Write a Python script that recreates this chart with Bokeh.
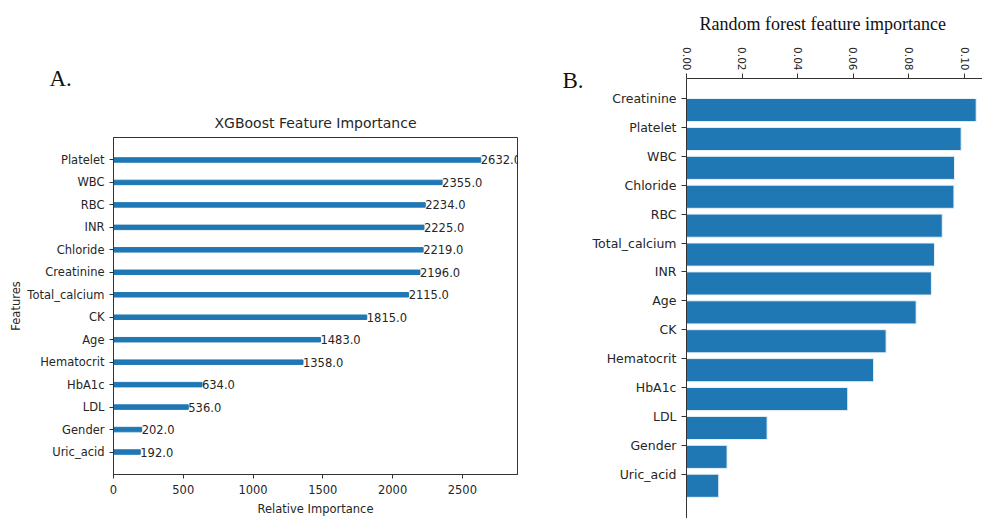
import math
from bokeh.plotting import figure
from bokeh.layouts import row
from bokeh.models import (Range1d, FixedTicker, LabelSet, ColumnDataSource, Title,
                          LinearAxis)
from bokeh.core.properties import value
from bokeh.embed import file_html
from bokeh.resources import INLINE

# ---------------- data ----------------
xgb_features = ["Platelet", "WBC", "RBC", "INR", "Chloride", "Creatinine", "Total_calcium",
                "CK", "Age", "Hematocrit", "HbA1c", "LDL", "Gender", "Uric_acid"]
xgb_scores = [2632, 2355, 2234, 2225, 2219, 2196, 2115, 1815, 1483, 1358, 634, 536, 202, 192]
xgb_ticks = [0, 500, 1000, 1500, 2000, 2500]

rf_features = ["Creatinine", "Platelet", "WBC", "Chloride", "RBC", "Total_calcium", "INR",
               "Age", "CK", "Hematocrit", "HbA1c", "LDL", "Gender", "Uric_acid"]
rf_scores = [0.1042, 0.0988, 0.0964, 0.0962, 0.0920, 0.0892, 0.0881,
             0.0826, 0.0718, 0.0673, 0.0580, 0.0290, 0.0146, 0.0116]
rf_ticks = [0.00, 0.02, 0.04, 0.06, 0.08, 0.10]

BLUE = "#1f77b4"
SANS = "DejaVu Sans"
SERIF = "Liberation Serif"
AX = "#333333"
TXT = "#262626"

# ---------------- A. XGBoost ----------------
n1 = len(xgb_features)
y1 = [n1 - 1 - i for i in range(n1)]
xmax1 = max(xgb_scores) * 1.1
src1 = ColumnDataSource(dict(y=y1, v=xgb_scores, t=[f"{s:.1f}" for s in xgb_scores]))

p1 = figure(width=540, height=518, x_range=Range1d(0, xmax1), y_range=Range1d(-1, n1),
            output_backend="svg", toolbar_location=None, frame_align=False,
            min_border_left=113, min_border_right=23, min_border_top=137, min_border_bottom=41)
p1.hbar(y="y", left=0, right="v", height=0.2, color=BLUE, source=src1)
p1.add_layout(LabelSet(x="v", y="y", text="t", source=src1, text_font=value(SANS),
                       text_font_size=value("11.5px"), text_baseline="middle",
                       text_align="left", text_color=TXT))

p1.xgrid.visible = False
p1.ygrid.visible = False
p1.outline_line_color = AX
p1.outline_line_width = 1

p1.xaxis.ticker = FixedTicker(ticks=xgb_ticks)
p1.yaxis.ticker = FixedTicker(ticks=y1)
p1.yaxis.major_label_overrides = {y: f for y, f in zip(y1, xgb_features)}
for ax in (p1.xaxis[0], p1.yaxis[0]):
    ax.axis_line_color = AX
    ax.major_tick_line_color = AX
    ax.major_tick_out = 4
    ax.major_tick_in = 0
    ax.minor_tick_line_color = None
    ax.major_label_text_font = SANS
    ax.major_label_text_font_size = "11.5px"
    ax.major_label_text_color = TXT
    ax.axis_label_text_font = SANS
    ax.axis_label_text_font_size = "11.5px"
    ax.axis_label_text_font_style = "normal"
    ax.axis_label_text_color = TXT
p1.xaxis.major_label_standoff = 6
p1.yaxis.major_label_standoff = 5
p1.xaxis.axis_label_standoff = 5
p1.yaxis.axis_label_standoff = 1
p1.xaxis.axis_label = "Relative Importance"
p1.yaxis.axis_label = "Features"

p1.add_layout(Title(text="XGBoost Feature Importance", align="center", text_font=SANS,
                    text_font_size="14px", text_font_style="normal", text_color=TXT,
                    standoff=14), "above")
p1.add_layout(Title(text="A.", align="left", offset=-64, text_font=SERIF,
                    text_font_size="23px", text_font_style="normal", text_color="#111111",
                    standoff=30), "above")

# ---------------- B. Random forest ----------------
n2 = len(rf_features)
y2 = list(range(n2))
px_per_unit = 2780.0
py_per_row = 28.9
x_end2 = 296 / px_per_unit
y_top2 = -20 / py_per_row
y_bot2 = y_top2 + 440 / py_per_row
src2 = ColumnDataSource(dict(y=[i + 0.4 for i in y2], v=rf_scores))

p2 = figure(width=442, height=518, x_range=Range1d(0, x_end2),
            y_range=Range1d(y_bot2, y_top2),
            output_backend="svg", toolbar_location=None, x_axis_location="above",
            frame_align=False,
            min_border_left=146, min_border_right=0, min_border_top=78, min_border_bottom=0)
p2.hbar(y="y", left=0, right="v", height=0.8, fill_color=BLUE, line_color="#e8f0f8",
        line_width=1, source=src2)

p2.xgrid.visible = False
p2.ygrid.visible = False
p2.outline_line_color = None

p2.xaxis.ticker = FixedTicker(ticks=rf_ticks)
p2.xaxis.major_label_overrides = {t: f"{t:.2f}" for t in rf_ticks}
p2.xaxis.major_label_orientation = -math.pi / 2
p2.yaxis.ticker = FixedTicker(ticks=y2)
p2.yaxis.major_label_overrides = {y: f for y, f in zip(y2, rf_features)}
for ax in (p2.xaxis[0], p2.yaxis[0]):
    ax.axis_line_color = AX
    ax.major_tick_line_color = AX
    ax.major_tick_out = 5
    ax.major_tick_in = 0
    ax.minor_tick_line_color = None
    ax.major_label_text_font = SANS
    ax.major_label_text_color = TXT
p2.yaxis.major_label_text_font_size = "12.5px"
p2.yaxis.major_label_standoff = 5
p2.xaxis.major_label_text_font_size = "10.5px"
p2.xaxis.major_label_standoff = 3

b_pos = y_top2 + 2 / py_per_row
p2.add_layout(LinearAxis(ticker=FixedTicker(ticks=[b_pos]),
                         major_label_overrides={b_pos: "B."},
                         axis_line_color=None, major_tick_line_color=None,
                         minor_tick_line_color=None, major_label_standoff=0,
                         major_label_text_font=SERIF, major_label_text_font_size="23px",
                         major_label_text_color="#111111"), "left")

p2.add_layout(Title(text="Random forest feature importance", align="left", offset=13,
                    text_font=SERIF, text_font_size="18px", text_font_style="normal",
                    text_color="#111111", standoff=22), "above")

layout = row(p1, p2, spacing=0)
open("out.html", "w").write(file_html(layout, INLINE))
